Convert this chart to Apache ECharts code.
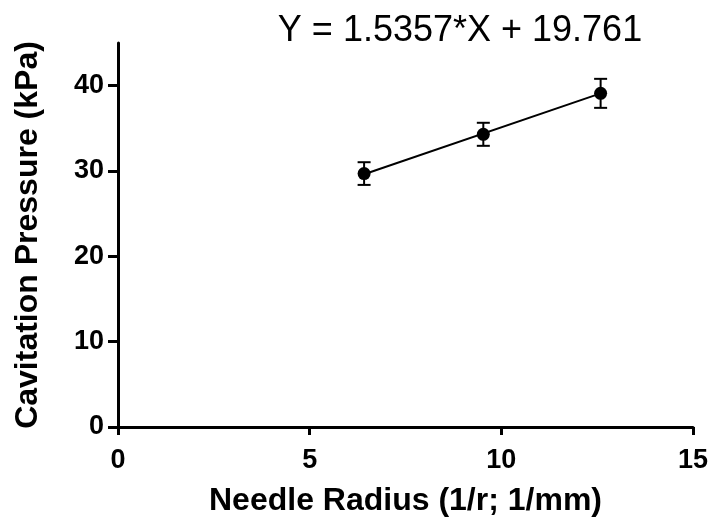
<!DOCTYPE html>
<html>
<head>
<meta charset="utf-8">
<script src="https://cdn.jsdelivr.net/npm/echarts@6/dist/echarts.min.js"></script>
<style>html,body{margin:0;padding:0;background:#fff;}#c{width:713px;height:518px;}</style>
</head>
<body>
<div id="c"></div>
<script>
var radius = [6.42, 9.53, 12.59];
var pressure = [29.7, 34.3, 39.1];
var errorSD = [1.33, 1.35, 1.7];
var fitSlope = 1.5357;
var fitIntercept = 19.761;
var xTicks = [0, 5, 10, 15];
var yTicks = [0, 10, 20, 30, 40];

var pts = radius.map(function (x, i) { return [x, pressure[i]]; });
var errs = radius.map(function (x, i) { return [x, pressure[i] - errorSD[i], pressure[i] + errorSD[i]]; });
var x0 = radius[0], x1 = radius[radius.length - 1];
var fitLine = [[x0, fitSlope * x0 + fitIntercept], [x1, fitSlope * x1 + fitIntercept]];

var FONT = 'Liberation Sans, Arial, sans-serif';
var chart = echarts.init(document.getElementById('c'));
chart.setOption({
  animation: false,
  title: {
    text: 'Y = 1.5357*X + 19.761',
    left: 455, top: 8, textAlign: 'center',
    textStyle: { fontFamily: FONT, fontSize: 36, fontWeight: 'normal', color: '#000' }
  },
  grid: { left: 118, right: 20, top: 43, bottom: 91, containLabel: false, outerBoundsMode: 'none' },
  xAxis: {
    type: 'value', min: 0, max: 15, interval: 5,
    name: 'Needle Radius (1/r; 1/mm)', nameLocation: 'middle', nameGap: 58, nameMoveOverlap: false,
    nameTextStyle: { fontFamily: FONT, fontSize: 32, fontWeight: 'bold', color: '#000' },
    axisLine: { lineStyle: { color: '#000', width: 3 } },
    axisTick: { show: true, length: 8, lineStyle: { color: '#000', width: 3 }, customValues: xTicks },
    axisLabel: { fontFamily: FONT, fontSize: 27, fontWeight: 'bold', color: '#000', margin: 20, customValues: xTicks },
    splitLine: { show: false }
  },
  yAxis: {
    type: 'value', min: 0, max: 45, interval: 10,
    name: 'Cavitation Pressure (kPa)', nameLocation: 'middle', nameGap: 74, nameMoveOverlap: false,
    nameTextStyle: { fontFamily: FONT, fontSize: 32, fontWeight: 'bold', color: '#000' },
    axisLine: { lineStyle: { color: '#000', width: 3 } },
    axisTick: { show: true, length: 10, lineStyle: { color: '#000', width: 3 }, customValues: yTicks },
    axisLabel: { fontFamily: FONT, fontSize: 27, fontWeight: 'bold', color: '#000', margin: 14, customValues: yTicks },
    splitLine: { show: false }
  },
  series: [
    {
      type: 'line', data: fitLine, symbol: 'none',
      lineStyle: { color: '#000', width: 2 }, z: 2
    },
    {
      type: 'custom', data: errs, z: 3,
      renderItem: function (params, api) {
        var x = api.value(0);
        var lo = api.coord([x, api.value(1)]);
        var hi = api.coord([x, api.value(2)]);
        var w = 6.5;
        var st = { stroke: '#000', lineWidth: 2 };
        return {
          type: 'group', children: [
            { type: 'line', shape: { x1: lo[0], y1: lo[1], x2: hi[0], y2: hi[1] }, style: st },
            { type: 'line', shape: { x1: lo[0] - w, y1: lo[1], x2: lo[0] + w, y2: lo[1] }, style: st },
            { type: 'line', shape: { x1: hi[0] - w, y1: hi[1], x2: hi[0] + w, y2: hi[1] }, style: st }
          ]
        };
      }
    },
    {
      type: 'scatter', data: pts, symbol: 'circle', symbolSize: 13,
      itemStyle: { color: '#000', opacity: 1 }, z: 4
    }
  ]
});
</script>
</body>
</html>
